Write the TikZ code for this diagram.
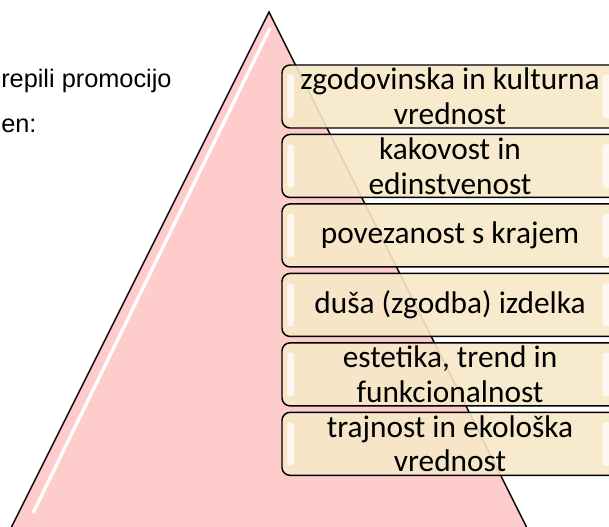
\documentclass[tikz,border=0pt]{standalone}
\usepackage{fontspec}
\setmainfont{Carlito}
\newfontfamily\introfont{Liberation Sans}
\usetikzlibrary{positioning}
\definecolor{pyramidpink}{RGB}{255,204,204}
\definecolor{tierbeige}{RGB}{247,232,200}

\begin{document}
\begin{tikzpicture}[x=0.75pt,y=-0.75pt,
  tier/.style={draw,line width=1.1pt,rounded corners=6pt,fill=tierbeige,fill opacity=0.9,text opacity=1,
    minimum width=252pt,minimum height=47.25pt,inner sep=0pt,align=center,
    font=\fontsize{23.5}{26}\selectfont,node distance=3.75pt},
  intro/.style={anchor=base west,inner sep=0pt,font=\introfont\fontsize{19}{22}\selectfont},
  glint/.style={rounded corners=2pt,fill=white,fill opacity=0.75}]

\useasboundingbox (0,0) rectangle (609,526);

\coordinate (apex) at (269,12);
\coordinate (baseL) at (10,530);
\coordinate (baseR) at (528,530);
\fill[pyramidpink] (apex) -- (baseL) -- (baseR) -- cycle;
\draw[white,line width=2.5pt] (270,28) -- (33,513);
\draw[line width=1.1pt] (baseL) -- (apex) -- (baseR);

\node[intro] (intro1) at (1,87) {repili promocijo};
\node[intro] (intro2) at (1,132) {en:};

\node[tier] (t1) at (450,96.5) {zgodovinska in kulturna\\vrednost};
\node[tier,below=of t1] (t2) {kakovost in\\edinstvenost};
\node[tier,below=of t2] (t3) {povezanost s krajem};
\node[tier,below=of t3] (t4) {duša (zgodba) izdelka};
\node[tier,below=of t4] (t5) {estetika, trend in\\funkcionalnost};
\node[tier,below=of t5] (t6) {trajnost in ekološka\\vrednost};

\foreach \i in {1,...,6}{
  \fill[glint] ([xshift=4.5pt,yshift=-8pt]t\i.north west) rectangle ([xshift=9.5pt,yshift=8pt]t\i.south west);
  \fill[glint] ([xshift=-12pt,yshift=-8pt]t\i.north east) rectangle ([xshift=-5pt,yshift=8pt]t\i.south east);
}
\end{tikzpicture}
\end{document}
